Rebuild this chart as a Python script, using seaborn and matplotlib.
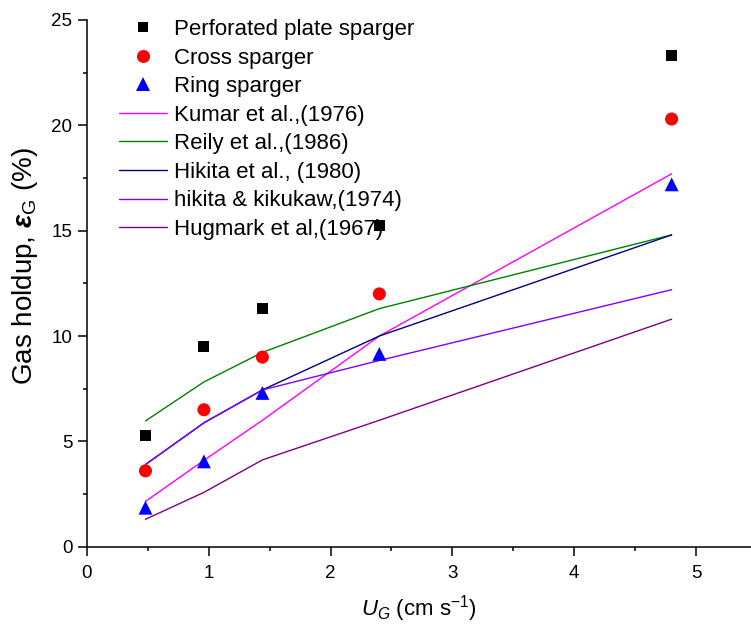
import matplotlib
matplotlib.use("Agg")
import matplotlib.pyplot as plt
import seaborn as sns
import numpy as np
from matplotlib.ticker import MultipleLocator
from matplotlib.lines import Line2D

# ---- data ----
ug = [0.48, 0.96, 1.44, 2.4, 4.8]
perforated = [5.3, 9.5, 11.3, 15.25, 23.3]
cross = [3.6, 6.5, 9.0, 12.0, 20.3]
ring = [1.85, 4.05, 7.3, 9.15, 17.2]
kumar = [2.15, 4.1, 6.0, 10.0, 17.7]
reily = [5.97, 7.82, 9.22, 11.3, 14.8]
hikita1980 = [3.9, 5.88, 7.44, 10.0, 14.8]
hikita1974 = [3.9, 5.88, 7.44, 8.84, 12.2]
hugmark = [1.3, 2.58, 4.12, 6.0, 10.8]

point_series = [
    ("Perforated plate sparger", perforated, "s", "black", 7.9),
    ("Cross sparger", cross, "o", "red", 9.4),
    ("Ring sparger", ring, "^", "blue", 10.0),
]
line_series = [
    ("Kumar et al.,(1976)", kumar, "#FF00FF"),
    ("Reily et al.,(1986)", reily, "#008000"),
    ("Hikita et al., (1980)", hikita1980, "#000080"),
    ("hikita & kikukaw,(1974)", hikita1974, "#8000FF"),
    ("Hugmark et al,(1967)", hugmark, "#800080"),
]

sns.set_theme(style="ticks")
plt.rcParams["font.family"] = ["Liberation Sans", "DejaVu Sans"]
plt.rcParams["text.color"] = "black"
plt.rcParams["axes.labelcolor"] = "black"
plt.rcParams["mathtext.fontset"] = "custom"
plt.rcParams["mathtext.rm"] = "Liberation Sans"
plt.rcParams["mathtext.it"] = "Liberation Sans:italic"
plt.rcParams["mathtext.bf"] = "Liberation Sans:bold"
plt.rcParams["mathtext.bfit"] = "Liberation Sans:italic:bold"

W, H = 751, 633
fig = plt.figure(figsize=(W / 100, H / 100), dpi=100)
ax = fig.add_axes([87 / W, (H - 546.7) / H, (W - 87) / W, (546.7 - 20) / H])

for name, vals, col in line_series:
    sns.lineplot(x=ug, y=vals, color=col, linewidth=1.0, sort=False,
                 label=name, ax=ax, legend=False)

for name, vals, mk, col, ms in point_series:
    sns.scatterplot(x=ug, y=vals, marker=mk, color=col, s=ms ** 2,
                    edgecolor="none", linewidth=0, label=name, ax=ax,
                    legend=False, zorder=5, clip_on=False)

ax.set_xlim(0, (W - 87) / 121.8)
ax.set_ylim(0, 25)
ax.xaxis.set_major_locator(MultipleLocator(1))
ax.xaxis.set_minor_locator(MultipleLocator(0.5))
ax.yaxis.set_major_locator(MultipleLocator(5))
ax.yaxis.set_minor_locator(MultipleLocator(2.5))
ax.tick_params(which="major", length=6.5, width=1.1, labelsize=13.5, pad=4,
               direction="out", color="black", labelcolor="black")
ax.tick_params(axis="x", which="major", pad=7)
ax.tick_params(which="minor", length=3, width=1.1, direction="out", color="black")
for s in ["top", "right"]:
    ax.spines[s].set_visible(False)
for s in ["left", "bottom"]:
    ax.spines[s].set_linewidth(1.1)
    ax.spines[s].set_color("black")

ax.set_xlabel(r"$U_G$ (cm s$^{\mathregular{-1}}$)", fontsize=16, labelpad=8)
ax.set_ylabel(r"Gas holdup, $\mathbfit{\varepsilon}_\mathrm{G}$ (%)", fontsize=20)
ax.yaxis.set_label_coords(-0.071, 0.532)

# legend: points first, then lines
handles = []
labels = []
for name, vals, mk, col, ms in point_series:
    handles.append(Line2D([], [], linestyle="none", marker=mk, color=col,
                          markersize=ms, markeredgewidth=0))
    labels.append(name)
for name, vals, col in line_series:
    handles.append(Line2D([], [], color=col, linewidth=1.0))
    labels.append(name)

leg = ax.legend(handles, labels, loc="upper left",
                bbox_to_anchor=(119 / W, 1 - 19 / H),
                bbox_transform=fig.transFigure, frameon=False,
                fontsize=16, borderpad=0, borderaxespad=0,
                handlelength=2.16, handletextpad=0.3, labelspacing=0.34)

fig.savefig("out.png", dpi=100)
